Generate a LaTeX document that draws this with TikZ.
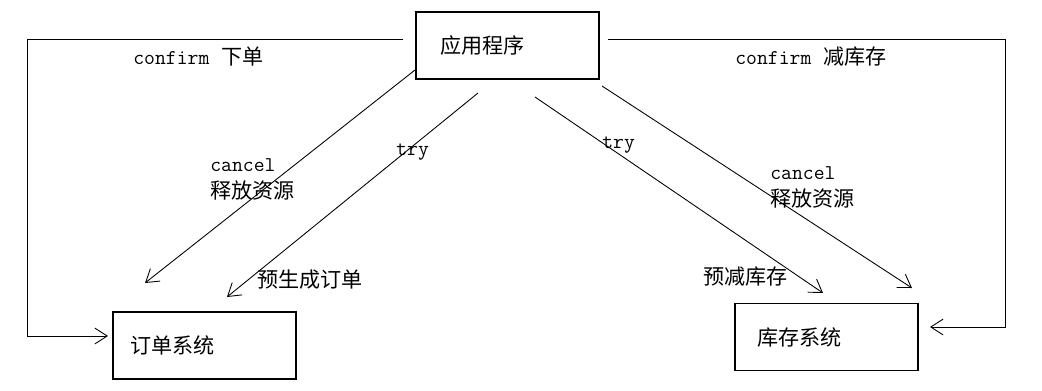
\documentclass[tikz,border=0pt]{standalone}
\usepackage{fontspec}
\setmainfont{Noto Sans CJK SC}
\newcommand\mono{\ttfamily\fontsize{12}{15.3}\selectfont}
\usetikzlibrary{arrows.meta}

\tikzset{
  sysbox/.style={draw, line width=0.6pt, align=left, minimum height=1.34cm, font=\fontsize{12}{14}\selectfont},
  flow/.style={->, line width=0.5pt},
  lbl/.style={anchor=west, inner sep=0pt, align=left, font=\fontsize{12}{15.3}\selectfont}
}

\begin{document}
\begin{tikzpicture}[x=0.02cm, y=-0.02cm, >={Straight Barb[length=7pt,width=9pt]}]
    \useasboundingbox (0,0) rectangle (1042,390);

    % Boxes
    \node[sysbox, inner xsep=0.48cm, text width=2.70cm] (app) at (507.5,45.5) {应用程序};
    \node[sysbox, inner xsep=0.34cm, text width=2.98cm] (order) at (204.5,345.5) {订单系统};
    \node[sysbox, inner xsep=0.44cm, text width=2.78cm] (stock) at (826.5,337) {库存系统};

    % Arrow ends
    \coordinate (cl1) at (403,39);
    \coordinate (cl2) at (108,336);
    \coordinate (cr1) at (608,39);
    \coordinate (cr2) at (930,327);
    \coordinate (ca1) at (415,70);
    \coordinate (ca2) at (145,283);
    \coordinate (tr1) at (478,93);
    \coordinate (tr2) at (227,297);
    \coordinate (ts1) at (535,97);
    \coordinate (ts2) at (823,293);
    \coordinate (cs1) at (602,86);
    \coordinate (cs2) at (912,288);

    % Confirm (left and right)
    \draw[flow] (cl1) -- (27,39) -- (27,336) -- (cl2);
    \draw[flow] (cr1) -- (1005,39) -- (1005,327) -- (cr2);

    % Order system: cancel and try
    \draw[flow] (ca1) -- (ca2);
    \draw[flow] (tr1) -- (tr2);

    % Stock system: try and cancel
    \draw[flow] (ts1) -- (ts2);
    \draw[flow] (cs1) -- (cs2);

    % Labels
    \node[lbl] (lconf) at (133,57) {{\mono confirm}\hspace{7pt}下单};
    \node[lbl] (rconf) at (735,57) {{\mono confirm}\hspace{7pt}减库存};
    \node[lbl] (lcancel) at (210,179) {{\mono cancel}\\释放资源};
    \node[lbl] (rcancel) at (770,187) {{\mono cancel}\\释放资源};
    \node[lbl, font=\mono] (ltry) at (396,152) {try};
    \node[lbl, font=\mono] (rtry) at (602,145) {try};
    \node[lbl] (pre1) at (257,280) {预生成订单};
    \node[lbl] (pre2) at (703,277) {预减库存};

\end{tikzpicture}
\end{document}
